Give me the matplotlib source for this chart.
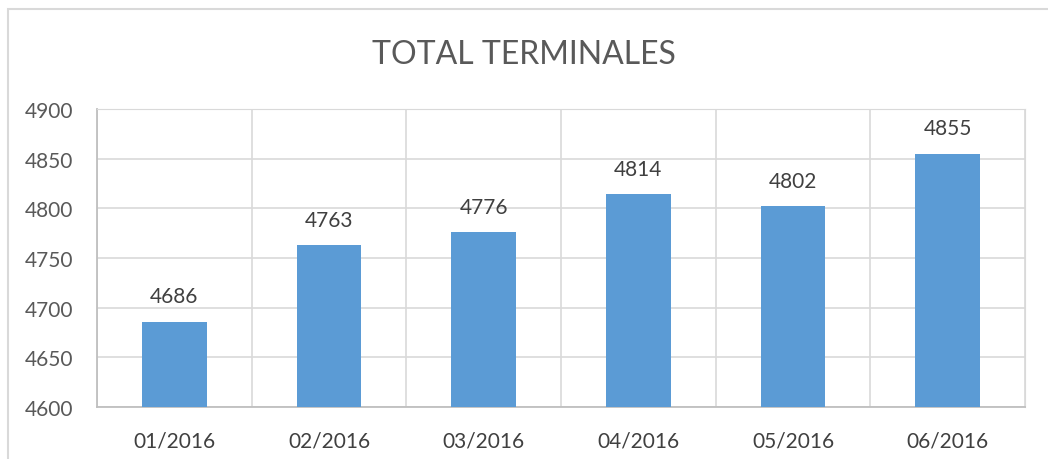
import matplotlib
matplotlib.use("Agg")
import matplotlib.pyplot as plt
import numpy as np
from matplotlib.patches import Rectangle

months = ["01/2016", "02/2016", "03/2016", "04/2016", "05/2016", "06/2016"]
terminales = [4686, 4763, 4776, 4814, 4802, 4855]
y_ticks = [4600, 4650, 4700, 4750, 4800, 4850, 4900]

plt.rcParams["font.family"] = ["Lato", "DejaVu Sans"]
txt = "#595959"

fig = plt.figure(figsize=(10.48, 4.6), dpi=100)
# outer chart border (cut off on right and bottom)
fig.patches.append(Rectangle((8 / 1048, -0.1), 1.2, 1 - 10 / 460 + 0.1,
                             transform=fig.transFigure, fill=False,
                             edgecolor="#d9d9d9", linewidth=1.5))

ax = fig.add_axes([97 / 1048, 1 - 408 / 460, (1025 - 97) / 1048, (408 - 110) / 460])
x = np.arange(len(months))
ax.bar(x, terminales, width=0.42, color="#5b9bd5", zorder=3)
for xi, v in zip(x, terminales):
    ax.annotate(str(v), (xi, v), xytext=(0, 11), textcoords="offset points",
                ha="center", va="bottom", fontsize=15, color="#404040")

ax.set_xlim(-0.5, len(months) - 0.5)
ax.set_ylim(4600, 4900)
ax.set_yticks(y_ticks)
ax.set_xticks(x)
ax.set_xticklabels(months)
ax.set_xticks(np.arange(-0.5, len(months)), minor=True)
ax.grid(True, which="minor", axis="x", color="#d9d9d9", linewidth=1.2, zorder=0)
ax.grid(True, which="major", axis="y", color="#d9d9d9", linewidth=1.2, zorder=0)
ax.tick_params(which="both", length=0)
ax.tick_params(axis="y", pad=17, labelsize=15, labelcolor=txt)
ax.tick_params(axis="x", pad=17, labelsize=15, labelcolor="#404040")
for s in ["top", "right"]:
    ax.spines[s].set_color("#d9d9d9")
for s in ["left", "bottom"]:
    ax.spines[s].set_color("#bfbfbf")
    ax.spines[s].set_linewidth(1.3)

fig.text(0.5, 1 - 55 / 460, "TOTAL TERMINALES", ha="center", va="center",
         fontsize=23, color=txt)

fig.savefig("out.png", dpi=100)
